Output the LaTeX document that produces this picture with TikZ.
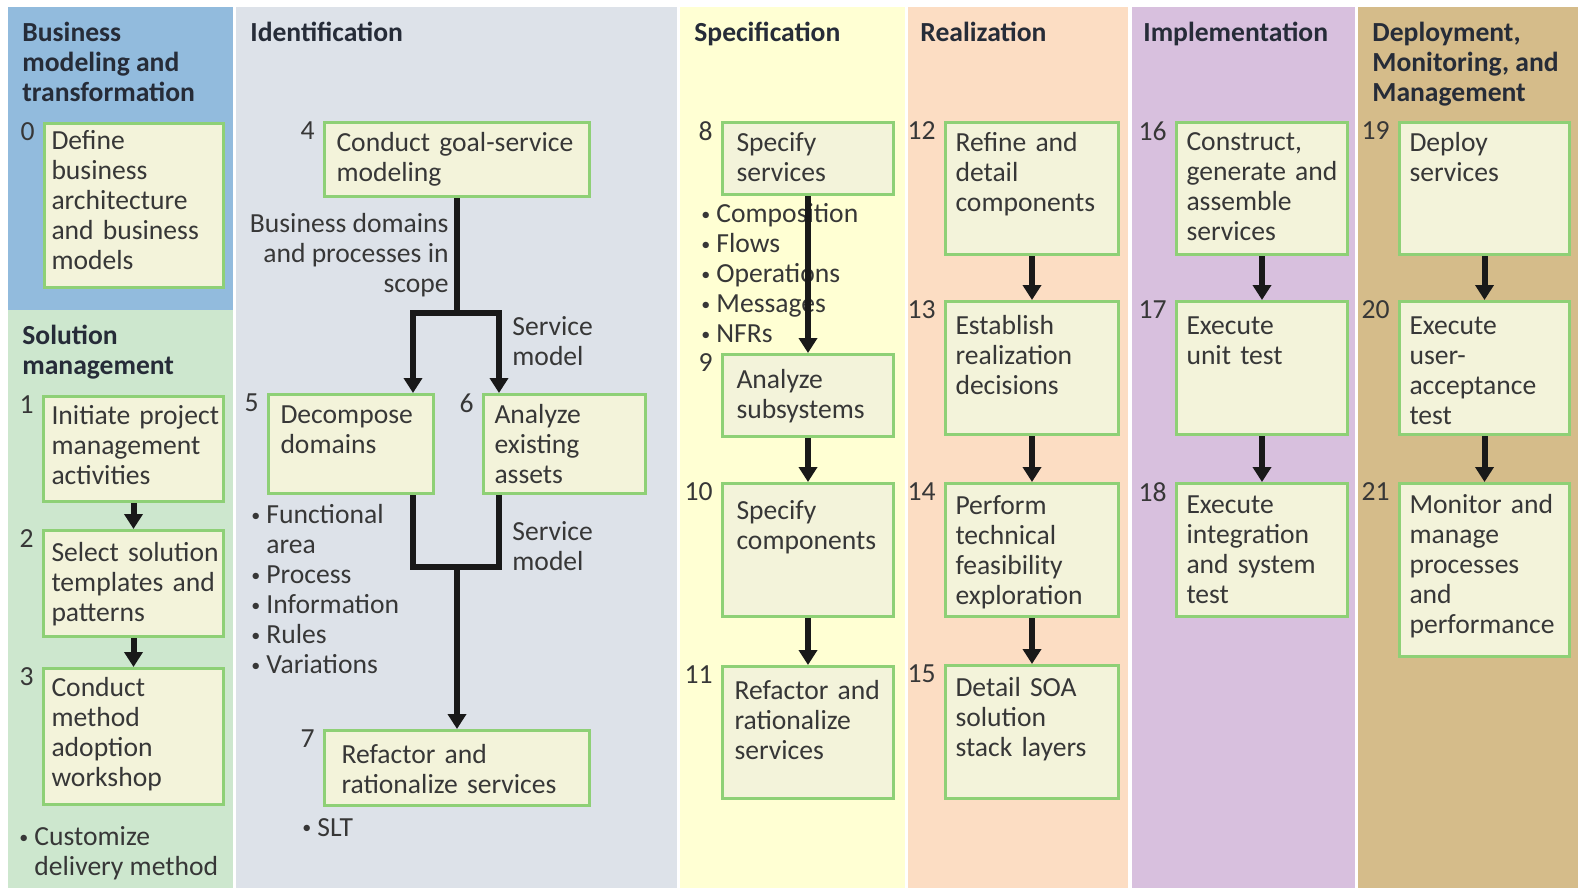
\documentclass[tikz,border=0pt]{standalone}
\usepackage{fontspec}
\setmainfont{Carlito}
\usepackage{tikz}
\usetikzlibrary{arrows.meta,positioning}
\hyphenpenalty=10000
\exhyphenpenalty=10000

\definecolor{bizcol}{RGB}{146,187,221}
\definecolor{solcol}{RGB}{205,231,206}
\definecolor{idcol}{RGB}{221,226,233}
\definecolor{speccol}{RGB}{255,255,211}
\definecolor{realcol}{RGB}{252,221,195}
\definecolor{implcol}{RGB}{216,192,222}
\definecolor{depcol}{RGB}{213,188,138}
\definecolor{boxfill}{RGB}{243,243,218}
\definecolor{boxline}{RGB}{142,208,118}
\definecolor{txtcol}{RGB}{55,55,55}
\definecolor{headcol}{RGB}{38,44,56}
\definecolor{arrowcol}{RGB}{25,25,25}

\newcommand{\bul}{\makebox[7.5pt][l]{\raisebox{1.2pt}{\fontsize{9}{9}\selectfont\textbullet}}}
\newcommand{\nobul}{\hspace*{7.5pt}}

\tikzstyle{task} = [rectangle, draw=boxline, line width=1.5pt, fill=boxfill,
    anchor=north west, align=left, inner ysep=0pt, inner xsep=5pt]
\tikzstyle{num} = [anchor=north east, inner sep=0pt, xshift=-4pt, text=txtcol]
\tikzstyle{phase} = [anchor=north west, inner sep=0pt, align=left,
    font=\fontsize{13.8}{15}\selectfont\bfseries, text=headcol]
\tikzstyle{note} = [anchor=north west, inner sep=0pt, align=left]
\tikzstyle{flow} = [line width=3pt, draw=arrowcol, line join=miter]
\tikzstyle{arr} = [flow, -{Triangle[width=9pt,length=7.5pt]}]

\begin{document}
\begin{tikzpicture}[x=0.5pt, y=-0.5pt,
    every node/.style={font=\fontsize{13.8}{15}\selectfont, text=txtcol}]
    \useasboundingbox (0,0) rectangle (1578,888);

    \fill[bizcol] (8,7) rectangle (233,310);
    \fill[solcol] (8,310) rectangle (233,888);
    \fill[idcol] (236,7) rectangle (677,888);
    \fill[speccol] (680,7) rectangle (905,888);
    \fill[realcol] (908,7) rectangle (1128,888);
    \fill[implcol] (1132,7) rectangle (1355,888);
    \fill[depcol] (1358,7) rectangle (1578,888);

    \node[phase] (tbiz) at (22,22) {Business\\modeling and\\transformation};
    \node[phase] (tsol) at (22,325) {Solution\\management};
    \node[phase] (tid) at (250,22) {Identification};
    \node[phase] (tspec) at (694,22) {Specification};
    \node[phase] (treal) at (920,22) {Realization};
    \node[phase] (timpl) at (1143,22) {Implementation};
    \node[phase] (tdep) at (1372,22) {Deployment,\\Monitoring, and\\Management};

    \node[task, text width=82.5pt, inner xsep=3.5pt, text height=13pt, text depth=69pt,
        label={[num]north west:0}] (bizarch) at (43,122)
        {Define\\business\\architecture\\and~business\\models};
    \node[task, text width=82pt, inner xsep=4pt, text height=14pt, text depth=38.5pt,
        label={[num]north west:1}] (initiate) at (42,395)
        {Initiate~project\\management\\activities};
    \node[task, text width=82pt, inner xsep=4pt, text height=15.5pt, text depth=37.5pt,
        label={[num]north west:2}] (select) at (42,529)
        {Select~solution\\templates~and\\patterns};
    \node[task, text width=82pt, inner xsep=4pt, text height=14pt, text depth=54pt,
        label={[num]north west:3}] (conduct) at (42,667)
        {Conduct\\method\\adoption\\workshop};
    \node[note] (custom) at (19,826) {\bul Customize\\\nobul delivery~method};

    \node[task, text width=120.5pt, inner xsep=6pt, text height=14.5pt, text depth=22.5pt,
        label={[num]north west:4}] (goalsvc) at (323,121)
        {Conduct~goal-service\\modeling};
    \node[task, text width=70.5pt, inner xsep=6pt, text height=14.5pt, text depth=35pt,
        label={[num]north west:5}] (decompose) at (267,393)
        {Decompose\\domains};
    \node[task, text width=70pt, inner xsep=5.5pt, text height=14.5pt, text depth=35pt,
        label={[num]north west:6}] (analyze) at (482,393)
        {Analyze\\existing\\assets};
    \node[task, text width=115.5pt, inner xsep=8.5pt, text height=16.5pt, text depth=21pt,
        label={[num]north west:7}] (refactor) at (323,729)
        {Refactor~and\\rationalize~services};
    \node[note, anchor=north east, align=right] (domains) at (449,213)
        {Business~domains\\and~processes~in\\scope};
    \node[note] (svcmodelA) at (512,316) {Service\\model};
    \node[note] (svcmodelB) at (512,521) {Service\\model};
    \node[note] (idlist) at (251,504)
        {\bul Functional\\\nobul area\\\bul Process\\\bul Information\\\bul Rules\\\bul Variations};
    \node[note] (slt) at (302,818) {\bul SLT};

    \node[task, text width=71.5pt, inner xsep=7pt, text height=14.5pt, text depth=21.5pt,
        label={[num]north west:8}] (specsvc) at (721,121)
        {Specify\\services};
    \node[task, text width=71.5pt, inner xsep=7pt, text height=17pt, text depth=24pt,
        label={[num]north west:9}] (subsys) at (721,353)
        {Analyze\\subsystems};
    \node[task, text width=71.5pt, inner xsep=7pt, text height=18pt, text depth=48.5pt,
        label={[num]north west:10}] (speccomp) at (721,482)
        {Specify\\components};
    \node[task, text width=73.5pt, inner xsep=6pt, text height=16.5pt, text depth=49.5pt,
        label={[num]north west:11}] (refsvc) at (721,665)
        {Refactor~and\\rationalize\\services};
    \node[note] (speclist) at (701,203)
        {\bul Composition\\\bul Flows\\\bul Operations\\\bul Messages\\\bul NFRs};

    \node[task, text width=76.5pt, text height=14.5pt, text depth=51.5pt,
        label={[num]north west:12}] (refine) at (944,121)
        {Refine~and\\detail\\components};
    \node[task, text width=76.5pt, text height=16.5pt, text depth=50pt,
        label={[num]north west:13}] (establish) at (944,300)
        {Establish\\realization\\decisions};
    \node[task, text width=76.5pt, text height=15.5pt, text depth=51pt,
        label={[num]north west:14}] (perform) at (944,482)
        {Perform\\technical\\feasibility\\exploration};
    \node[task, text width=76.5pt, text height=15.5pt, text depth=51pt,
        label={[num]north west:15}] (detail) at (944,664)
        {Detail~SOA\\solution\\stack~layers};

    \node[task, text width=75.5pt, text height=14pt, text depth=52pt,
        label={[num]north west:16}] (construct) at (1175,121)
        {Construct,\\generate~and\\assemble\\services};
    \node[task, text width=75.5pt, text height=16.5pt, text depth=50pt,
        label={[num]north west:17}] (unittest) at (1175,300)
        {Execute\\unit~test};
    \node[task, text width=75.5pt, text height=15pt, text depth=51.5pt,
        label={[num]north west:18}] (integtest) at (1175,482)
        {Execute\\integration\\and~system\\test};

    \node[task, text width=75pt, text height=14.5pt, text depth=51.5pt,
        label={[num]north west:19}] (deploy) at (1398,121)
        {Deploy\\services};
    \node[task, text width=75pt, text height=16.5pt, text depth=50pt,
        label={[num]north west:20}] (uat) at (1398,300)
        {Execute\\user-\\acceptance\\test};
    \node[task, text width=75pt, text height=15pt, text depth=71.5pt,
        label={[num]north west:21}] (monitor) at (1398,482)
        {Monitor~and\\manage\\processes\\and\\performance};

    \coordinate (split) at (457,313);
    \coordinate (lsplit) at (413,313);
    \coordinate (rsplit) at (499,313);
    \coordinate (merge) at (457,567);
    \coordinate (lmerge) at (413,567);
    \coordinate (rmerge) at (499,567);

    \draw[arr] (initiate) -- (select);
    \draw[arr] (select) -- (conduct);

    \draw[flow] (goalsvc.south -| split) -- (split);
    \draw[arr] (split) -- (lsplit) -- (lsplit |- decompose.north);
    \draw[arr] (split) -- (rsplit) -- (rsplit |- analyze.north);
    \draw[flow] (lmerge |- decompose.south) -- (lmerge) -- (rmerge) -- (rmerge |- analyze.south);
    \draw[arr] (merge) -- (merge |- refactor.north);

    \draw[arr] (specsvc) -- (subsys);
    \draw[arr] (subsys) -- (speccomp);
    \draw[arr] (speccomp) -- (refsvc);

    \draw[arr] (refine) -- (establish);
    \draw[arr] (establish) -- (perform);
    \draw[arr] (perform) -- (detail);

    \draw[arr] (construct) -- (unittest);
    \draw[arr] (unittest) -- (integtest);

    \draw[arr] (deploy) -- (uat);
    \draw[arr] (uat) -- (monitor);
\end{tikzpicture}
\end{document}
